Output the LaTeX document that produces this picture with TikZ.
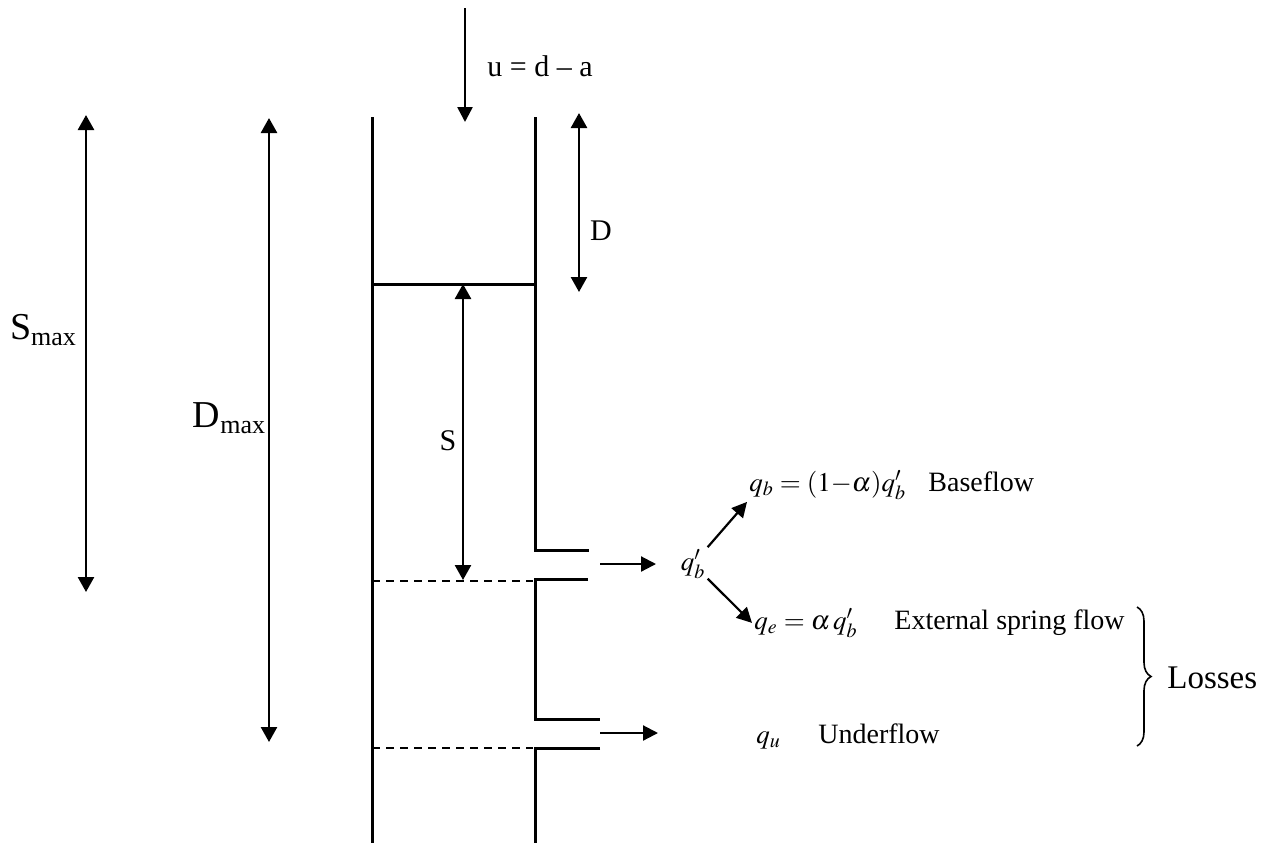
\documentclass[tikz,border=0pt]{standalone}
\usepackage{mathptmx}
\usepackage{fontspec}
\setmainfont{Liberation Serif}
\usetikzlibrary{arrows.meta,decorations.pathreplacing}

% one unit = one pixel of the drawing, y runs downwards
\tikzset{
  wall/.style={line width=1.5pt},
  level/.style={line width=0.9pt,dash pattern=on 4pt off 3pt},
  dim/.style={line width=1.3pt,{Triangle[length=7.5pt,width=8pt]}-{Triangle[length=7.5pt,width=8pt]}},
  flow/.style={line width=1.1pt,-{Triangle[length=7.5pt,width=7.5pt]}},
  lbl/.style={inner sep=1pt,font=\fontsize{15}{17}\selectfont},
  big/.style={inner sep=1pt,font=\fontsize{19}{21}\selectfont},
  txt/.style={inner sep=1pt,anchor=base west,font=\fontsize{14}{16}\selectfont},
  eq/.style={inner sep=1pt,anchor=base west,font=\fontsize{13.5}{15}\selectfont},
}
\newcommand\lowsub[1]{\raisebox{-0.35ex}{\fontsize{13}{13}\selectfont #1}}

\begin{document}
\begin{tikzpicture}[x=0.5pt,y=-0.5pt]
\useasboundingbox (0,0) rectangle (1266,843);

% the store: left wall, right wall with two outlets
\draw[wall] (372,117) -- (372,843);
\draw[wall] (535,117) -- (535,550) -- (589,550);
\draw[wall] (588,579) -- (535,579) -- (535,719) -- (600,719);
\draw[wall] (600,748) -- (535,748) -- (535,843);
\draw[wall] (372,284) -- (535,284);
\draw[level] (372,581) -- (533,581);
\draw[level] (372,748) -- (533,748);

% inflow
\coordinate (uin) at (465,8);
\coordinate (uout) at (465,122);
\draw[flow,line width=1.3pt] (uin) -- (uout);
\node[lbl,anchor=base west] (u) at (485,76) {u = d – a};

% depths
\coordinate (stop) at (86,115);
\coordinate (sbot) at (86,592);
\draw[dim] (stop) -- (sbot);
\node[big] (smax) at (43,330) {S\lowsub{max}};

\coordinate (dtop) at (269,118);
\coordinate (dbot) at (269,742);
\draw[dim] (dtop) -- (dbot);
\node[big] (dmax) at (229,418) {D\lowsub{max}};

\coordinate (deftop) at (579,113);
\coordinate (defbot) at (579,292);
\draw[dim] (deftop) -- (defbot);
\node[lbl] (dlab) at (601,231) {D};

\coordinate (wtop) at (463,284);
\coordinate (wbot) at (463,580);
\draw[dim] (wtop) -- (wbot);
\node[lbl] (slab) at (448,441) {S};

% outflows
\coordinate (bout) at (600,564);
\coordinate (bend) at (656,564);
\coordinate (uflow) at (600,733);
\coordinate (uend) at (658,733);
\node[eq,anchor=center] (qbp) at (693,564) {$q_b'$};
\draw[flow] (bout) -- (bend);
\node[eq] (qb) at (747,491) {$q_b = (1{-}\alpha)q_b'$};
\node[txt] (base) at (926,491) {Baseflow};
\node[eq] (qe) at (752,629) {$q_e = \alpha\, q_b'$};
\node[txt] (ext) at (892,629) {External spring flow};
\node[eq] (qu) at (754,743) {$q_u$};
\node[txt] (under) at (816,743) {Underflow};
\draw[flow] (uflow) -- (uend);
\draw[flow] (qbp) -- (qb.south west);
\draw[flow] (qbp) -- (qe.west);

% losses
\coordinate (btop) at (1137,607);
\coordinate (bbot) at (1137,746);
\draw[line width=0.8pt,decorate,decoration={brace,amplitude=7pt}] (btop) -- (bbot);
\node[anchor=west,inner sep=1pt,font=\fontsize{16.5}{19}\selectfont] (loss) at (1165,678) {Losses};
\end{tikzpicture}
\end{document}
